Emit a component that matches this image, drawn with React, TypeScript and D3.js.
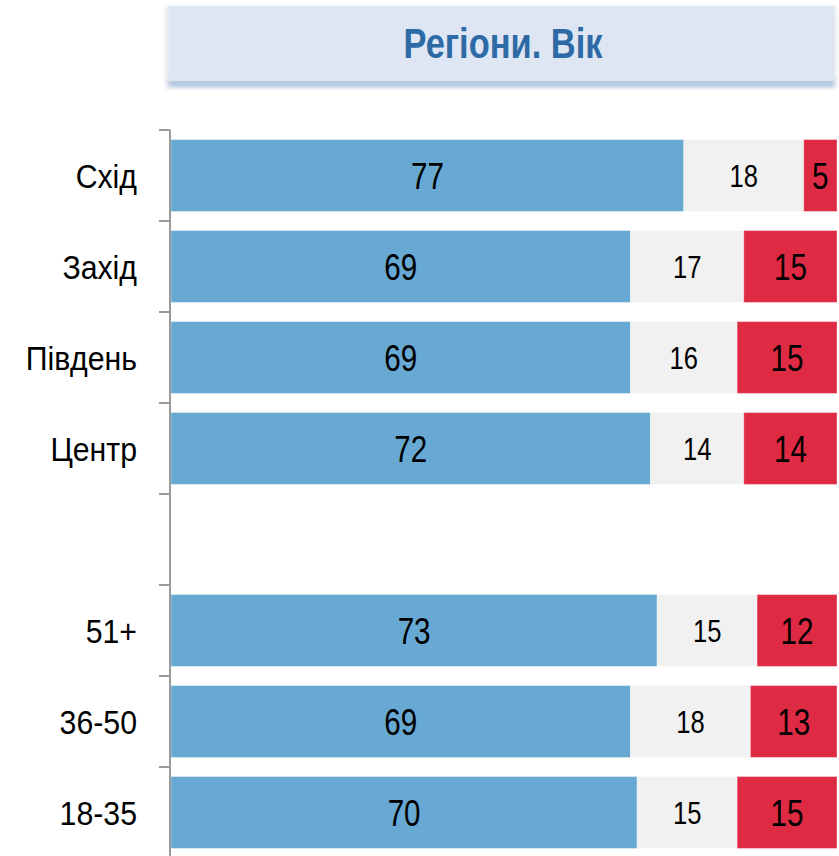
import React, { useRef, useEffect, useCallback } from 'react';
import * as d3 from 'd3';

const categories = ['Схід', 'Захід', 'Південь', 'Центр', '', '51+', '36-50', '18-35'];
const positive = [77, 69, 69, 72, null, 73, 69, 70];
const neutral = [18, 17, 16, 14, null, 15, 18, 15];
const negative = [5, 15, 15, 14, null, 12, 13, 15];
const title = 'Регіони. Вік';

const colors = ['#67a9d3', '#f1f1f1', '#df2a44'];
const labelSizes = [37, 32, 37];

const App = ({ width = 839, height = 856 }) => {
  const svgRef = useRef<SVGSVGElement | null>(null);

  const drawChart = useCallback((node: SVGSVGElement) => {
    const svg = d3.select(node);
    svg.selectAll('*').remove();

    const defs = svg.append('defs');
    const blur = defs.append('filter').attr('id', 'soft').attr('x', '-5%').attr('y', '-30%').attr('width', '110%').attr('height', '160%');
    blur.append('feGaussianBlur').attr('stdDeviation', 2);

    // title box
    const tg = svg.append('g');
    tg.append('rect')
      .attr('x', 165).attr('y', 6).attr('width', 672).attr('height', 82)
      .attr('fill', '#d9dde4').attr('filter', 'url(#soft)').attr('opacity', 0.6);
    tg.append('rect')
      .attr('x', 169).attr('y', 78).attr('width', 665).attr('height', 9)
      .attr('fill', '#b3c8e1').attr('filter', 'url(#soft)');
    tg.append('rect')
      .attr('x', 169).attr('y', 6).attr('width', 665).attr('height', 75)
      .attr('fill', '#dfe6f3');
    tg.append('g')
      .attr('transform', 'translate(503,58) scale(0.82,1)')
      .append('text')
      .attr('text-anchor', 'middle')
      .style('font-family', '"Liberation Sans", Arial, sans-serif')
      .style('font-weight', 700)
      .style('font-size', '42px')
      .attr('fill', '#2d6aa6')
      .text(title);

    const x = d3.scaleLinear().domain([0, 100]).range([171, 837]).clamp(true);
    const y = d3.scaleBand().domain(categories.map((c, i) => `${i}`)).range([130, 858]).paddingInner(0.21).paddingOuter(0.105);
    const step = y.step();

    const rows = categories.map((c, i) => ({ key: `${i}`, name: c, vals: [positive[i], neutral[i], negative[i]] }));

    // bars
    rows.forEach(row => {
      if (row.vals[0] == null) return;
      let acc = 0;
      row.vals.forEach((v, j) => {
        const x0 = x(acc);
        const x1 = x(acc + (v as number));
        acc += v as number;
        const yy = y(row.key) as number;
        svg.append('rect')
          .attr('x', x0).attr('y', yy)
          .attr('width', x1 - x0).attr('height', y.bandwidth())
          .attr('fill', colors[j])
          .attr('stroke', '#ffffff').attr('stroke-opacity', 0.35).attr('stroke-width', 1);
        svg.append('g')
          .attr('transform', `translate(${(x0 + x1) / 2},${yy + y.bandwidth() / 2}) scale(0.8,1)`)
          .append('text')
          .attr('text-anchor', 'middle')
          .attr('dy', '0.36em')
          .style('font-family', '"Liberation Sans", Arial, sans-serif')
          .style('font-size', `${labelSizes[j]}px`)
          .attr('fill', '#000')
          .text(v as number);
      });
    });

    // axis
    const axis = svg.append('g').attr('stroke', '#9a9a9a').attr('stroke-width', 2);
    axis.append('line').attr('x1', 170).attr('x2', 170).attr('y1', 130).attr('y2', 858);
    d3.range(categories.length + 1).forEach(i => {
      const ty = 130 + i * step;
      axis.append('line').attr('x1', 159).attr('x2', 170).attr('y1', ty).attr('y2', ty);
    });

    // category labels
    rows.forEach(row => {
      if (!row.name) return;
      svg.append('g')
        .attr('transform', `translate(137,${(y(row.key) as number) + y.bandwidth() / 2}) scale(0.89,1)`)
        .append('text')
        .attr('text-anchor', 'end')
        .attr('dy', '0.36em')
        .style('font-family', '"Liberation Sans", Arial, sans-serif')
        .style('font-size', '34px')
        .attr('fill', '#000')
        .text(row.name);
    });
  }, []);

  useEffect(() => {
    if (svgRef.current) {
      drawChart(svgRef.current);
    }
  }, [drawChart]);

  return (
    <svg
      ref={svgRef}
      width={width}
      height={height}
      style={{ position: 'absolute', left: 0, top: 0, background: '#fff' }}
    />
  );
};

export default App;
